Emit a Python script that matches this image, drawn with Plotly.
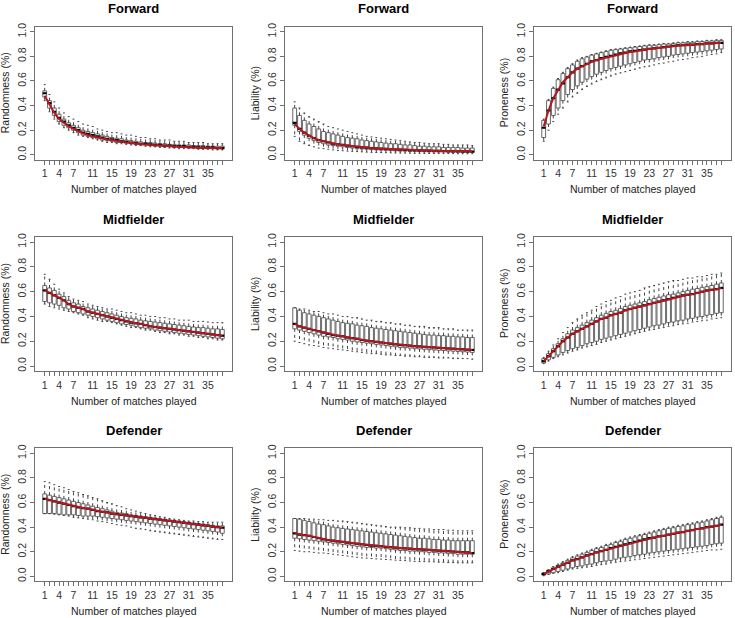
import plotly.graph_objects as go
from plotly.subplots import make_subplots

W, H = 735, 618
matches = list(range(1, 39))
tick_labels = ['1', '4', '7', '11', '15', '19', '23', '27', '31', '35']
positions = ['Forward', 'Midfielder', 'Defender']
metrics = ['Randomness (%)', 'Liability (%)', 'Proneness (%)']
y_ticks = [0.0, 0.2, 0.4, 0.6, 0.8, 1.0]
y_tick_text = ['0.0', '0.2', '0.4', '0.6', '0.8', '1.0']

# ---------------- Forward / Randomness ----------------
fw_rand_hi = [0.57,0.49,0.43,0.38,0.34,0.31,0.29,0.27,0.25,0.24,0.23,0.21,0.20,0.19,0.18,0.18,0.17,0.16,0.16,0.15,0.14,0.14,0.13,0.13,0.12,0.12,0.12,0.11,0.11,0.11,0.10,0.10,0.10,0.10,0.09,0.09,0.09,0.09]
fw_rand_q3 = [0.52,0.44,0.38,0.33,0.29,0.26,0.24,0.22,0.20,0.19,0.18,0.17,0.16,0.15,0.14,0.135,0.13,0.12,0.115,0.11,0.105,0.10,0.10,0.095,0.09,0.09,0.085,0.085,0.08,0.08,0.08,0.075,0.075,0.075,0.07,0.07,0.07,0.07]
fw_rand_med = [0.50,0.42,0.35,0.30,0.27,0.24,0.22,0.20,0.18,0.17,0.16,0.15,0.14,0.13,0.125,0.12,0.11,0.105,0.10,0.095,0.09,0.09,0.085,0.08,0.08,0.075,0.075,0.07,0.07,0.07,0.065,0.065,0.06,0.06,0.06,0.06,0.055,0.055]
fw_rand_q1 = [0.47,0.38,0.32,0.27,0.24,0.22,0.20,0.18,0.16,0.15,0.14,0.13,0.12,0.115,0.11,0.10,0.10,0.095,0.09,0.085,0.08,0.08,0.075,0.07,0.07,0.065,0.065,0.06,0.06,0.06,0.055,0.055,0.055,0.05,0.05,0.05,0.05,0.05]
fw_rand_lo = [0.44,0.35,0.29,0.25,0.22,0.20,0.18,0.16,0.15,0.14,0.13,0.12,0.11,0.10,0.10,0.09,0.09,0.085,0.08,0.075,0.075,0.07,0.065,0.065,0.06,0.06,0.055,0.055,0.05,0.05,0.05,0.05,0.045,0.045,0.045,0.04,0.04,0.04]
fw_rand_red = [0.48,0.41,0.34,0.29,0.26,0.23,0.21,0.19,0.175,0.16,0.15,0.14,0.13,0.125,0.12,0.11,0.105,0.10,0.095,0.09,0.088,0.085,0.08,0.078,0.075,0.072,0.07,0.068,0.066,0.064,0.062,0.06,0.058,0.057,0.056,0.055,0.054,0.053]

# ---------------- Forward / Liability ----------------
fw_liab_hi = [0.43,0.38,0.34,0.31,0.29,0.27,0.25,0.23,0.22,0.21,0.20,0.19,0.18,0.17,0.16,0.15,0.145,0.14,0.135,0.13,0.125,0.12,0.115,0.11,0.105,0.10,0.10,0.095,0.09,0.09,0.09,0.085,0.085,0.08,0.08,0.08,0.08,0.075]
fw_liab_q3 = [0.38,0.32,0.28,0.25,0.23,0.21,0.19,0.18,0.17,0.16,0.15,0.14,0.135,0.13,0.12,0.115,0.11,0.105,0.10,0.095,0.09,0.09,0.085,0.08,0.08,0.075,0.07,0.07,0.065,0.065,0.065,0.06,0.06,0.06,0.06,0.055,0.055,0.055]
fw_liab_med = [0.26,0.21,0.18,0.155,0.135,0.12,0.11,0.10,0.09,0.085,0.08,0.075,0.07,0.065,0.06,0.058,0.055,0.052,0.05,0.048,0.045,0.043,0.042,0.04,0.038,0.037,0.036,0.035,0.034,0.033,0.032,0.031,0.03,0.03,0.029,0.028,0.028,0.027]
fw_liab_q1 = [0.24,0.19,0.16,0.135,0.115,0.10,0.09,0.08,0.075,0.07,0.065,0.06,0.055,0.05,0.048,0.045,0.042,0.04,0.038,0.036,0.034,0.032,0.03,0.03,0.028,0.027,0.026,0.025,0.024,0.023,0.022,0.022,0.021,0.02,0.02,0.02,0.019,0.019]
fw_liab_lo = [0.15,0.11,0.09,0.075,0.065,0.055,0.05,0.045,0.04,0.035,0.033,0.03,0.028,0.026,0.024,0.022,0.02,0.019,0.018,0.017,0.016,0.015,0.014,0.014,0.013,0.012,0.012,0.011,0.011,0.01,0.01,0.01,0.01,0.01,0.009,0.009,0.009,0.009]
fw_liab_red = [0.25,0.21,0.18,0.155,0.135,0.12,0.11,0.10,0.09,0.085,0.08,0.075,0.07,0.065,0.06,0.058,0.055,0.052,0.05,0.048,0.045,0.043,0.042,0.04,0.038,0.037,0.036,0.035,0.034,0.033,0.032,0.031,0.03,0.03,0.029,0.028,0.028,0.027]

# ---------------- Forward / Proneness ----------------
fw_pron_hi = [0.29,0.45,0.55,0.62,0.67,0.71,0.74,0.77,0.79,0.80,0.815,0.825,0.835,0.845,0.855,0.86,0.865,0.87,0.875,0.88,0.885,0.89,0.895,0.895,0.90,0.905,0.905,0.91,0.915,0.915,0.92,0.92,0.925,0.925,0.93,0.93,0.935,0.935]
fw_pron_q3 = [0.28,0.44,0.54,0.61,0.66,0.70,0.73,0.76,0.78,0.795,0.81,0.82,0.83,0.84,0.85,0.855,0.86,0.865,0.87,0.875,0.88,0.885,0.89,0.89,0.895,0.90,0.90,0.905,0.91,0.91,0.915,0.915,0.92,0.92,0.925,0.925,0.93,0.93]
fw_pron_med = [0.22,0.36,0.46,0.53,0.58,0.63,0.67,0.70,0.72,0.74,0.76,0.77,0.785,0.795,0.805,0.815,0.825,0.83,0.84,0.845,0.85,0.855,0.86,0.865,0.87,0.875,0.88,0.885,0.89,0.89,0.895,0.895,0.90,0.90,0.905,0.905,0.91,0.91]
fw_pron_q1 = [0.14,0.25,0.32,0.38,0.44,0.49,0.53,0.56,0.59,0.615,0.635,0.655,0.67,0.685,0.70,0.71,0.72,0.73,0.74,0.75,0.76,0.77,0.775,0.78,0.79,0.795,0.80,0.81,0.815,0.82,0.825,0.83,0.835,0.84,0.845,0.85,0.855,0.86]
fw_pron_lo = [0.11,0.20,0.27,0.33,0.38,0.43,0.47,0.50,0.53,0.555,0.575,0.595,0.61,0.625,0.64,0.655,0.665,0.675,0.685,0.695,0.705,0.715,0.72,0.73,0.74,0.745,0.755,0.76,0.77,0.775,0.78,0.79,0.795,0.80,0.81,0.815,0.82,0.83]
fw_pron_red = [0.23,0.36,0.46,0.53,0.59,0.63,0.67,0.70,0.72,0.74,0.755,0.77,0.78,0.79,0.80,0.81,0.82,0.83,0.835,0.84,0.85,0.855,0.86,0.865,0.87,0.875,0.88,0.88,0.885,0.89,0.89,0.895,0.90,0.90,0.905,0.905,0.91,0.91]

# ---------------- Midfielder / Randomness ----------------
mf_rand_hi = [0.74,0.70,0.66,0.62,0.59,0.56,0.54,0.53,0.52,0.50,0.49,0.48,0.47,0.46,0.46,0.45,0.44,0.43,0.43,0.42,0.41,0.41,0.40,0.40,0.39,0.39,0.38,0.38,0.37,0.37,0.37,0.36,0.36,0.36,0.355,0.35,0.35,0.35]
mf_rand_q3 = [0.65,0.63,0.61,0.58,0.56,0.53,0.51,0.50,0.48,0.47,0.46,0.45,0.44,0.43,0.42,0.41,0.40,0.39,0.385,0.38,0.37,0.365,0.36,0.355,0.35,0.345,0.34,0.335,0.33,0.325,0.32,0.315,0.31,0.31,0.305,0.30,0.30,0.295]
mf_rand_med = [0.61,0.59,0.57,0.55,0.53,0.50,0.48,0.47,0.46,0.44,0.43,0.42,0.41,0.40,0.39,0.38,0.37,0.36,0.35,0.345,0.34,0.33,0.32,0.315,0.31,0.305,0.30,0.295,0.29,0.285,0.28,0.275,0.27,0.265,0.26,0.255,0.25,0.245]
mf_rand_q1 = [0.52,0.51,0.50,0.49,0.47,0.46,0.44,0.43,0.42,0.41,0.40,0.39,0.38,0.37,0.36,0.35,0.34,0.335,0.33,0.32,0.31,0.305,0.30,0.29,0.285,0.28,0.275,0.27,0.265,0.26,0.255,0.25,0.245,0.24,0.235,0.23,0.225,0.22]
mf_rand_lo = [0.50,0.48,0.47,0.46,0.45,0.44,0.43,0.42,0.41,0.39,0.38,0.37,0.36,0.36,0.35,0.34,0.33,0.32,0.31,0.31,0.30,0.29,0.29,0.28,0.27,0.27,0.26,0.26,0.25,0.25,0.24,0.24,0.23,0.23,0.22,0.22,0.21,0.21]
mf_rand_red = mf_rand_med

# ---------------- Midfielder / Liability ----------------
mf_liab_hi = [0.47,0.46,0.46,0.45,0.44,0.44,0.43,0.42,0.42,0.41,0.40,0.40,0.39,0.39,0.38,0.37,0.37,0.36,0.36,0.35,0.35,0.34,0.34,0.33,0.33,0.32,0.32,0.32,0.31,0.31,0.31,0.30,0.30,0.30,0.29,0.29,0.29,0.29]
mf_liab_q3 = [0.47,0.45,0.43,0.42,0.41,0.40,0.39,0.38,0.37,0.36,0.35,0.345,0.34,0.33,0.325,0.32,0.31,0.305,0.30,0.295,0.29,0.285,0.28,0.275,0.27,0.265,0.26,0.255,0.25,0.25,0.245,0.245,0.24,0.24,0.235,0.235,0.23,0.23]
mf_liab_med = [0.34,0.32,0.31,0.30,0.29,0.28,0.27,0.26,0.25,0.245,0.24,0.23,0.225,0.22,0.21,0.205,0.20,0.195,0.19,0.185,0.18,0.175,0.17,0.168,0.165,0.16,0.158,0.155,0.152,0.15,0.147,0.145,0.142,0.14,0.137,0.135,0.132,0.13]
mf_liab_q1 = [0.30,0.29,0.28,0.27,0.26,0.25,0.24,0.235,0.23,0.22,0.215,0.21,0.20,0.195,0.19,0.185,0.18,0.175,0.17,0.165,0.16,0.155,0.15,0.148,0.145,0.14,0.138,0.135,0.132,0.13,0.127,0.125,0.122,0.12,0.118,0.115,0.113,0.11]
mf_liab_lo = [0.20,0.19,0.18,0.17,0.165,0.16,0.15,0.145,0.14,0.135,0.13,0.125,0.12,0.115,0.11,0.105,0.10,0.10,0.095,0.09,0.09,0.085,0.085,0.08,0.08,0.075,0.075,0.07,0.07,0.07,0.065,0.065,0.065,0.06,0.06,0.06,0.06,0.055]
mf_liab_red = mf_liab_med

# ---------------- Midfielder / Proneness ----------------
mf_pron_hi = [0.07,0.12,0.17,0.22,0.27,0.31,0.35,0.38,0.41,0.43,0.45,0.48,0.50,0.52,0.53,0.55,0.56,0.58,0.59,0.60,0.61,0.63,0.64,0.65,0.66,0.67,0.68,0.69,0.69,0.70,0.71,0.71,0.72,0.72,0.73,0.74,0.74,0.75]
mf_pron_q3 = [0.06,0.10,0.14,0.18,0.22,0.26,0.29,0.31,0.33,0.35,0.37,0.39,0.41,0.425,0.44,0.45,0.465,0.48,0.49,0.50,0.51,0.52,0.535,0.545,0.555,0.565,0.575,0.58,0.59,0.60,0.61,0.62,0.625,0.635,0.64,0.65,0.66,0.67]
mf_pron_med = [0.04,0.08,0.12,0.16,0.20,0.23,0.26,0.28,0.30,0.32,0.34,0.36,0.38,0.39,0.41,0.42,0.43,0.45,0.46,0.47,0.48,0.49,0.50,0.51,0.52,0.53,0.54,0.55,0.56,0.57,0.575,0.58,0.59,0.60,0.61,0.615,0.62,0.63]
mf_pron_q1 = [0.025,0.05,0.07,0.09,0.11,0.125,0.14,0.15,0.165,0.18,0.19,0.20,0.215,0.225,0.235,0.245,0.255,0.265,0.275,0.285,0.295,0.305,0.315,0.325,0.33,0.34,0.35,0.355,0.365,0.37,0.38,0.385,0.395,0.40,0.41,0.415,0.425,0.43]
mf_pron_lo = [0.02,0.04,0.06,0.075,0.09,0.105,0.12,0.13,0.145,0.155,0.165,0.175,0.19,0.20,0.21,0.22,0.23,0.24,0.25,0.26,0.27,0.28,0.29,0.295,0.305,0.31,0.32,0.325,0.335,0.34,0.345,0.355,0.36,0.365,0.37,0.38,0.385,0.39]
mf_pron_red = mf_pron_med

# ---------------- Defender / Randomness ----------------
df_rand_hi = [0.77,0.76,0.745,0.73,0.72,0.705,0.69,0.68,0.665,0.655,0.64,0.63,0.615,0.60,0.59,0.575,0.565,0.55,0.54,0.53,0.52,0.51,0.50,0.495,0.485,0.48,0.47,0.465,0.46,0.455,0.45,0.45,0.445,0.445,0.44,0.44,0.44,0.44]
df_rand_q3 = [0.67,0.66,0.65,0.64,0.63,0.62,0.61,0.60,0.59,0.58,0.57,0.56,0.55,0.54,0.53,0.52,0.515,0.51,0.50,0.495,0.49,0.485,0.48,0.475,0.47,0.465,0.46,0.455,0.45,0.445,0.44,0.435,0.43,0.425,0.42,0.415,0.41,0.41]
df_rand_med = [0.63,0.62,0.61,0.60,0.59,0.58,0.57,0.56,0.555,0.55,0.54,0.53,0.525,0.52,0.51,0.505,0.50,0.495,0.49,0.485,0.48,0.475,0.47,0.465,0.46,0.455,0.45,0.445,0.44,0.435,0.43,0.425,0.42,0.415,0.41,0.405,0.40,0.395]
df_rand_q1 = [0.51,0.51,0.51,0.505,0.50,0.50,0.50,0.495,0.49,0.49,0.49,0.485,0.48,0.475,0.47,0.465,0.46,0.455,0.45,0.445,0.44,0.435,0.43,0.425,0.42,0.415,0.41,0.405,0.40,0.395,0.39,0.385,0.38,0.375,0.37,0.365,0.36,0.35]
df_rand_lo = [0.51,0.51,0.505,0.50,0.495,0.49,0.48,0.475,0.47,0.465,0.46,0.45,0.445,0.44,0.43,0.42,0.415,0.41,0.40,0.39,0.385,0.38,0.37,0.365,0.36,0.355,0.35,0.345,0.34,0.335,0.33,0.325,0.32,0.315,0.31,0.305,0.30,0.30]
df_rand_red = df_rand_med

# ---------------- Defender / Liability ----------------
df_liab_hi = [0.47,0.47,0.47,0.465,0.465,0.46,0.46,0.455,0.455,0.45,0.45,0.445,0.44,0.435,0.43,0.425,0.42,0.415,0.41,0.405,0.40,0.40,0.40,0.395,0.395,0.39,0.39,0.385,0.385,0.38,0.38,0.38,0.375,0.375,0.37,0.37,0.37,0.37]
df_liab_q3 = [0.47,0.465,0.455,0.445,0.435,0.425,0.42,0.41,0.40,0.395,0.39,0.385,0.38,0.375,0.37,0.365,0.36,0.355,0.35,0.345,0.34,0.335,0.33,0.325,0.32,0.315,0.31,0.31,0.305,0.30,0.30,0.295,0.295,0.29,0.29,0.29,0.29,0.29]
df_liab_med = [0.35,0.34,0.335,0.33,0.32,0.31,0.30,0.295,0.29,0.285,0.28,0.275,0.27,0.265,0.26,0.255,0.25,0.247,0.245,0.24,0.237,0.233,0.23,0.227,0.225,0.222,0.22,0.217,0.215,0.212,0.21,0.207,0.205,0.202,0.20,0.197,0.195,0.19]
df_liab_q1 = [0.31,0.305,0.30,0.295,0.29,0.285,0.28,0.275,0.27,0.265,0.26,0.255,0.25,0.245,0.24,0.235,0.235,0.23,0.23,0.225,0.22,0.215,0.21,0.21,0.205,0.205,0.20,0.20,0.195,0.195,0.19,0.19,0.185,0.185,0.18,0.18,0.18,0.18]
df_liab_lo = [0.21,0.205,0.20,0.20,0.195,0.19,0.19,0.185,0.18,0.175,0.17,0.165,0.16,0.155,0.15,0.148,0.145,0.142,0.14,0.137,0.135,0.132,0.13,0.128,0.125,0.122,0.12,0.12,0.118,0.118,0.115,0.115,0.112,0.112,0.11,0.11,0.11,0.11]
df_liab_red = df_liab_med

# ---------------- Defender / Proneness ----------------
df_pron_hi = [0.03,0.055,0.08,0.10,0.12,0.14,0.16,0.175,0.19,0.205,0.22,0.235,0.245,0.26,0.27,0.285,0.295,0.31,0.32,0.33,0.34,0.35,0.36,0.37,0.38,0.39,0.40,0.405,0.415,0.42,0.43,0.435,0.445,0.45,0.46,0.47,0.48,0.49]
df_pron_q3 = [0.025,0.05,0.07,0.09,0.11,0.13,0.15,0.165,0.18,0.195,0.21,0.225,0.235,0.25,0.26,0.275,0.285,0.30,0.31,0.32,0.33,0.34,0.35,0.36,0.37,0.38,0.39,0.395,0.405,0.41,0.42,0.425,0.435,0.44,0.45,0.46,0.47,0.48]
df_pron_med = [0.02,0.04,0.06,0.08,0.095,0.11,0.13,0.14,0.155,0.17,0.18,0.195,0.205,0.215,0.23,0.24,0.25,0.26,0.27,0.28,0.29,0.30,0.31,0.315,0.325,0.33,0.34,0.345,0.355,0.36,0.37,0.375,0.385,0.39,0.40,0.405,0.41,0.42]
df_pron_q1 = [0.01,0.02,0.03,0.04,0.05,0.06,0.07,0.08,0.085,0.095,0.10,0.11,0.12,0.125,0.13,0.14,0.15,0.155,0.16,0.17,0.175,0.18,0.19,0.195,0.20,0.205,0.21,0.215,0.22,0.225,0.23,0.235,0.24,0.245,0.25,0.26,0.265,0.27]
df_pron_lo = [0.005,0.015,0.025,0.03,0.04,0.05,0.06,0.065,0.07,0.075,0.08,0.09,0.095,0.10,0.11,0.115,0.12,0.125,0.13,0.135,0.14,0.145,0.15,0.155,0.16,0.165,0.17,0.175,0.18,0.185,0.19,0.195,0.20,0.205,0.21,0.215,0.215,0.22]
df_pron_red = df_pron_med

panels = [
    [(fw_rand_lo, fw_rand_q1, fw_rand_med, fw_rand_q3, fw_rand_hi, fw_rand_red),
     (fw_liab_lo, fw_liab_q1, fw_liab_med, fw_liab_q3, fw_liab_hi, fw_liab_red),
     (fw_pron_lo, fw_pron_q1, fw_pron_med, fw_pron_q3, fw_pron_hi, fw_pron_red)],
    [(mf_rand_lo, mf_rand_q1, mf_rand_med, mf_rand_q3, mf_rand_hi, mf_rand_red),
     (mf_liab_lo, mf_liab_q1, mf_liab_med, mf_liab_q3, mf_liab_hi, mf_liab_red),
     (mf_pron_lo, mf_pron_q1, mf_pron_med, mf_pron_q3, mf_pron_hi, mf_pron_red)],
    [(df_rand_lo, df_rand_q1, df_rand_med, df_rand_q3, df_rand_hi, df_rand_red),
     (df_liab_lo, df_liab_q1, df_liab_med, df_liab_q3, df_liab_hi, df_liab_red),
     (df_pron_lo, df_pron_q1, df_pron_med, df_pron_q3, df_pron_hi, df_pron_red)],
]

# pixel boxes of the plotting regions
col_px = [(35, 232), (285, 482), (534, 731)]
row_px = [(23, 157), (235, 370), (448, 582)]

FONT = 'Liberation Sans, Arial, sans-serif'
FRAME = '#707070'
BOX_LINE = '#666666'
WHISK = '#444444'
RED = '#b5161e'

fig = make_subplots(rows=3, cols=3)

def seg(xs_pairs, ys_pairs):
    xs, ys = [], []
    for (xa, xb), (ya, yb) in zip(xs_pairs, ys_pairs):
        xs += [xa, xb, None]
        ys += [ya, yb, None]
    return xs, ys

annotations = []
for r in range(3):
    for c in range(3):
        lo, q1, med, q3, hi, red = panels[r][c]
        row, col = r + 1, c + 1
        # whiskers (dashed)
        wx, wy = seg([(m, m) for m in matches] * 2,
                     [(a, b) for a, b in zip(q3, hi)] + [(a, b) for a, b in zip(q1, lo)])
        fig.add_trace(go.Scatter(x=wx, y=wy, mode='lines',
                                 line=dict(color=WHISK, width=1, dash='dot'),
                                 hoverinfo='skip', showlegend=False), row=row, col=col)
        # staples
        sx, sy = seg([(m - 0.2, m + 0.2) for m in matches] * 2,
                     [(v, v) for v in hi] + [(v, v) for v in lo])
        fig.add_trace(go.Scatter(x=sx, y=sy, mode='lines',
                                 line=dict(color=WHISK, width=1),
                                 hoverinfo='skip', showlegend=False), row=row, col=col)
        # boxes
        fig.add_trace(go.Box(x=matches, q1=q1, median=med, q3=q3,
                             lowerfence=q1, upperfence=q3, width=0.8,
                             whiskerwidth=0, boxpoints=False,
                             fillcolor='white', line=dict(color=BOX_LINE, width=1),
                             hoverinfo='skip', showlegend=False), row=row, col=col)
        # medians (thick)
        mx, my = seg([(m - 0.4, m + 0.4) for m in matches], [(v, v) for v in med])
        fig.add_trace(go.Scatter(x=mx, y=my, mode='lines',
                                 line=dict(color='black', width=2.2),
                                 hoverinfo='skip', showlegend=False), row=row, col=col)
        # red curve
        fig.add_trace(go.Scatter(x=matches, y=red, mode='lines',
                                 line=dict(color=RED, width=2),
                                 hoverinfo='skip', showlegend=False), row=row, col=col)

        x0, x1 = col_px[c]
        y0, y1 = row_px[r]
        xd = [x0 / W, x1 / W]
        yd = [1 - y1 / H, 1 - y0 / H]
        fig.update_xaxes(domain=xd, range=[-1.02, 40.02], tickmode='array',
                         tickvals=matches,
                         ticktext=[str(m) if str(m) in tick_labels else '' for m in matches],
                         ticks='outside', ticklen=4, tickcolor=FRAME, tickwidth=1,
                         showline=True, mirror=True, linecolor=FRAME, linewidth=1,
                         showgrid=False, zeroline=False,
                         tickfont=dict(family=FONT, size=10.5, color='#333333'),
                         row=row, col=col)
        fig.update_yaxes(domain=yd, range=[-0.04, 1.04], tickmode='array',
                         tickvals=y_ticks, ticktext=y_tick_text, tickangle=-90,
                         ticks='outside', ticklen=4, tickcolor=FRAME, tickwidth=1,
                         showline=True, mirror=True, linecolor=FRAME, linewidth=1,
                         showgrid=False, zeroline=False,
                         tickfont=dict(family=FONT, size=10.5, color='#333333'),
                         row=row, col=col)
        cx = (x0 + x1) / 2 / W
        annotations.append(dict(text='<b>' + positions[r] + '</b>', x=cx, y=1 - (y0 - 18) / H,
                                xref='paper', yref='paper', showarrow=False,
                                xanchor='center', yanchor='middle',
                                font=dict(family=FONT, size=13, color='black')))
        annotations.append(dict(text='Number of matches played', x=cx, y=1 - (y1 + 30) / H,
                                xref='paper', yref='paper', showarrow=False,
                                xanchor='center', yanchor='middle',
                                font=dict(family=FONT, size=10.5, color='#222222')))
        annotations.append(dict(text=metrics[c], x=(x0 - 30) / W, y=1 - (y0 + y1) / 2 / H,
                                xref='paper', yref='paper', showarrow=False, textangle=-90,
                                xanchor='center', yanchor='middle',
                                font=dict(family=FONT, size=10.5, color='#222222')))

fig.update_layout(width=W, height=H, margin=dict(l=0, r=0, t=0, b=0),
                  paper_bgcolor='white', plot_bgcolor='white',
                  annotations=annotations, showlegend=False)

fig.write_html('out.html', config={'displayModeBar': False},
               post_script="document.body.style.margin='0';document.body.style.padding='0';"
                           "document.body.style.overflow='hidden';")
